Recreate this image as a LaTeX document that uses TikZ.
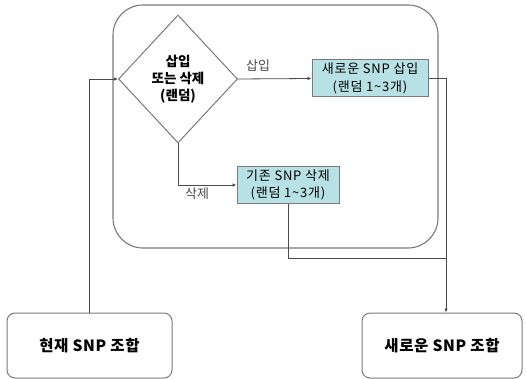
\documentclass[tikz,border=0pt]{standalone}
\usepackage{fontspec}
\setmainfont{Noto Sans CJK KR}
\usetikzlibrary{shapes.geometric,arrows.meta}
\definecolor{boxfill}{HTML}{B7E1E4}
\definecolor{linegray}{HTML}{4A4A4A}
\definecolor{framegray}{HTML}{7A7A7A}
\tikzset{
  conn/.style={draw=linegray,line width=0.8pt},
  arr/.style={conn,-{Latex[length=4pt,width=3.5pt]}},
  actbox/.style={draw=framegray,fill=boxfill,line width=1pt,minimum width=#1,minimum height=37pt,inner sep=0pt,align=center,font=\fontsize{13}{17.5}\selectfont\addfontfeature{LetterSpace=6}},
  endbox/.style={draw=framegray,line width=1pt,rounded corners=8pt,minimum width=#1,minimum height=65pt,inner sep=0pt,font=\fontsize{15.5}{17}\selectfont\bfseries\addfontfeature{LetterSpace=4}},
  lbl/.style={font=\fontsize{13}{15}\selectfont,inner sep=0pt,text=linegray},
}
\begin{document}
\begin{tikzpicture}[x=1pt,y=-1pt]
\useasboundingbox (0,0) rectangle (526,379);
% big frame
\draw[framegray,line width=1.1pt,rounded corners=30pt] (113,5) rectangle (438,248);
% decision
\node[diamond,draw=framegray,line width=1pt,minimum width=119pt,minimum height=128pt,inner sep=0pt,align=center,font=\fontsize{13.5}{17}\selectfont\bfseries] (dec) at (178,79) {삽입\\또는 삭제\\(랜덤)};
\node[actbox=116pt] (ins) at (370,78.5) {새로운 SNP 삽입\\(랜덤 1\textasciitilde3개)};
\node[actbox=102pt] (del) at (288,185) {기존 SNP 삭제\\(랜덤 1\textasciitilde3개)};
\node[endbox=165pt] (cur) at (89.5,345.5) {현재 SNP 조합};
\node[endbox=160pt] (new) at (442,345.5) {새로운 SNP 조합};
\coordinate (join) at (446,258);
% connectors
\draw[arr] (cur.north -| 89,0) -- (89,79) -- (dec.west);
\draw[arr] (dec.east) -- (ins.west);
\draw[arr] (dec.south) |- (del.west);
\draw[arr] (ins.east) -- (446,78.5) -- (446,312.5);
\draw[conn] (del.south) |- (join);
% labels
\node[lbl] (lins) at (258,66) {삽입};
\node[lbl] (ldel) at (197,194) {삭제};
\end{tikzpicture}
\end{document}
